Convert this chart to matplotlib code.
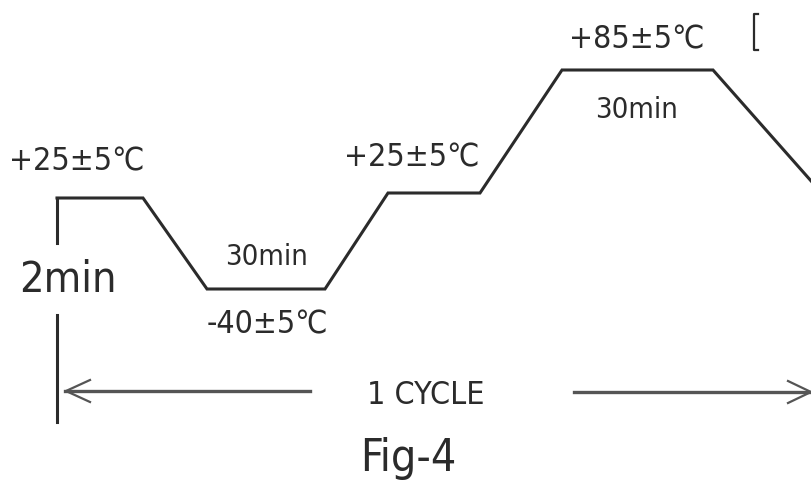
"""
Temperature cycling profile (Fig-4), redrawn as a schematic.
"""

import matplotlib.pyplot as plt

# Schematic profile: time positions and level positions (drawing units, y grows downward)
profile_t = [57, 143, 207, 325, 388, 480, 562, 713, 812]
profile_level = [198, 198, 289, 289, 193, 193, 70, 70, 182]

# Labels for each plateau: (text, x, y, size)
labels = ['+25±5℃', '2min', '30min', '-40±5℃', '+25±5℃', '+85±5℃', '30min', '1 CYCLE', 'Fig-4']
label_x = [77, 68, 267, 267, 412, 637, 637, 426, 408]
label_y = [162, 280, 257, 325, 158, 40, 110, 396, 458]
label_size = [23, 31, 21, 23, 23, 23, 21, 23, 32]

INK = '#2b2b2b'
FONT = ['DejaVu Sans']

fig = plt.figure(figsize=(8.12, 4.84), dpi=100)
ax = fig.add_axes([0, 0, 1, 1])
ax.set_xlim(0, 812)
ax.set_ylim(484, 0)
ax.axis('off')

# profile line
ax.plot(profile_t, profile_level, color=INK, lw=2.2, solid_joinstyle='miter')

# start marker (broken vertical line around "2min")
ax.plot([57, 57], [198, 243], color=INK, lw=2.2)
ax.plot([57, 57], [315, 422], color=INK, lw=2.2)

# odd little bracket at top right
ax.plot([758, 754, 754, 758], [14, 14, 50, 50], color=INK, lw=1.6)

# 1 cycle arrows
ax.plot([65, 310], [391, 391], color='#555555', lw=2.4)
ax.plot([90, 66, 90], [380, 391, 402], color='#555555', lw=1.6)
ax.plot([574, 811], [392, 392], color='#555555', lw=2.4)
ax.plot([788, 811, 788], [381, 392, 403], color='#555555', lw=1.6)

for txt, x, y, s in zip(labels, label_x, label_y, label_size):
    ax.text(x, y, txt, ha='center', va='center', fontsize=s,
            color=INK, family=FONT, fontstretch='condensed')

fig.savefig('out.png', dpi=100, facecolor='white')
